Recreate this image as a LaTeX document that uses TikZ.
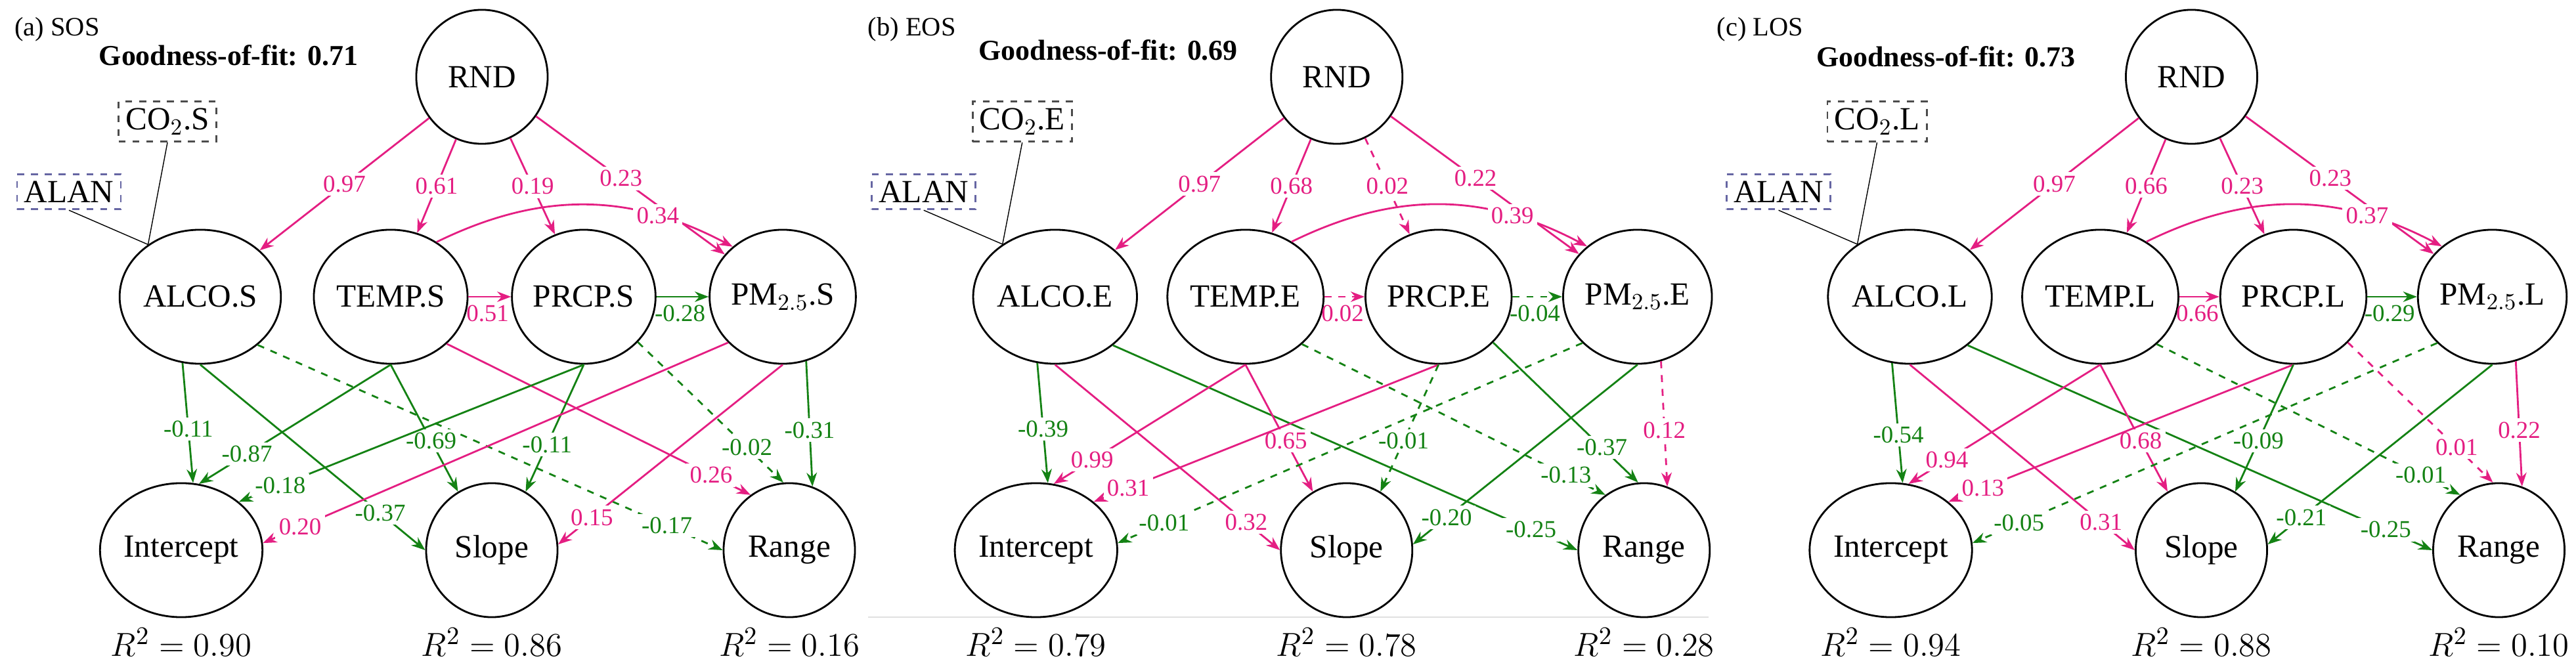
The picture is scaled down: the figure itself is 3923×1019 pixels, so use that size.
\documentclass[tikz,border=0pt]{standalone}
\usepackage{fontspec}
\setmainfont{Liberation Serif}
\usepackage{tikz}
\usetikzlibrary{shapes.geometric}
\usetikzlibrary{arrows.meta}
\definecolor{pk}{RGB}{228,30,130}
\definecolor{gn}{RGB}{20,130,20}
\newcommand\pth[5]{\draw[#1] (#2) -- node[lbl,pos=#4]{#5} (#3);}
\newcommand\vars[1]{
    \node[var] (RND) at (734,117) {RND};
    \node[var] (ALCO) at (305,452) {ALCO.#1};
    \node[var] (TEMP) at (595,452) {TEMP.#1};
    \node[var] (PRCP) at (889,452) {PRCP.#1};
    \node[var] (PM) at (1192,452) {PM$_{2.5}$.#1};
    \node[var] (INT) at (276,838) {Intercept};
    \node[var] (SLP) at (749,838) {Slope};
    \node[var] (RNG) at (1202,838) {Range};
    \node[box,draw=black!70] (CO) at (255,185) {CO$_2$.#1};
    \node[box,draw=blue!40!black!60] (ALAN) at (105,292) {ALAN};
    \draw (CO.south) -- (ALCO.135);
    \draw (ALAN.south) -- (ALCO.135);
}
\begin{document}
\begin{tikzpicture}[x=0.01cm,y=-0.01cm,
    var/.style={ellipse, draw, thick, minimum width=2cm, minimum height=2.04cm, inner sep=0pt, font=\fontsize{14}{16}\selectfont},
    box/.style={rectangle, dashed, thick, inner sep=3pt, font=\fontsize{14}{16}\selectfont},
    lbl/.style={fill=white, inner sep=1.5pt, font=\fontsize{10.5}{12}\selectfont},
    pe/.style={color=pk, thick, -{Stealth[length=6pt]}},
    ne/.style={color=gn, thick, -{Stealth[length=6pt]}},
    ns/.style={dashed},
    gof/.style={font=\bfseries\fontsize{12.5}{14}\selectfont},
    ttl/.style={font=\fontsize{11.5}{13}\selectfont},
    rsq/.style={font=\fontsize{15}{17}\selectfont}]
\useasboundingbox (0,0) rectangle (3923,1019);

% (a) SOS
\begin{scope}[name prefix=a-]
    \node[ttl] (title) at (87,45) {(a) SOS};
    \node[gof] (gof) at (348,84) {Goodness-of-fit: 0.71};
    \vars{S}
    \pth{pe}{RND}{ALCO}{0.5}{0.97}
    \pth{pe}{RND}{TEMP}{0.5}{0.61}
    \pth{pe}{RND}{PRCP}{0.5}{0.19}
    \pth{pe}{RND}{PM}{0.45}{0.23}
    \draw[pe] (TEMP.50) to[bend left=27] node[lbl,pos=0.75]{0.34} (PM.135);
    \draw[pe] (TEMP) -- node[below,pos=0.45,font=\fontsize{10.5}{12}\selectfont]{0.51} (PRCP);
    \draw[ne] (PRCP) -- node[below,pos=0.45,font=\fontsize{10.5}{12}\selectfont]{-0.28} (PM);
    \pth{ne}{ALCO.-105}{INT.80}{0.55}{-0.11}
    \pth{ne}{ALCO.-90}{SLP.180}{0.8}{-0.37}
    \pth{ne,ns}{ALCO.-40}{RNG.180}{0.88}{-0.17}
    \pth{ne}{TEMP.-90}{INT.75}{0.75}{-0.87}
    \pth{ne}{TEMP.-90}{SLP.120}{0.6}{-0.69}
    \pth{pe}{TEMP.-40}{RNG.125}{0.87}{0.26}
    \pth{ne}{PRCP.-90}{INT.40}{0.88}{-0.18}
    \pth{ne}{PRCP.-90}{SLP.60}{0.63}{-0.11}
    \pth{ne,ns}{PRCP.-40}{RNG.95}{0.75}{-0.02}
    \pth{pe}{PM.-140}{INT.5}{0.92}{0.20}
    \pth{pe}{PM.-90}{SLP.5}{0.85}{0.15}
    \pth{ne}{PM.-70}{RNG.70}{0.55}{-0.31}
    \node[rsq] (r1) at (276,978) {$R^2 = 0.90$};
    \node[rsq] (r2) at (749,978) {$R^2 = 0.86$};
    \node[rsq] (r3) at (1202,978) {$R^2 = 0.16$};
\end{scope}

% (b) EOS
\begin{scope}[xshift=13.01cm, name prefix=b-]
    \draw[black!12] (20,940) -- (1300,940);
    \node[ttl] (title) at (87,45) {(b) EOS};
    \node[gof] (gof) at (386,76) {Goodness-of-fit: 0.69};
    \vars{E}
    \pth{pe}{RND}{ALCO}{0.5}{0.97}
    \pth{pe}{RND}{TEMP}{0.5}{0.68}
    \pth{pe,ns}{RND}{PRCP}{0.5}{0.02}
    \pth{pe}{RND}{PM}{0.45}{0.22}
    \draw[pe] (TEMP.50) to[bend left=27] node[lbl,pos=0.75]{0.39} (PM.135);
    \draw[pe,ns] (TEMP) -- node[below,pos=0.45,font=\fontsize{10.5}{12}\selectfont]{0.02} (PRCP);
    \draw[ne,ns] (PRCP) -- node[below,pos=0.45,font=\fontsize{10.5}{12}\selectfont]{-0.04} (PM);
    \pth{ne}{ALCO.-105}{INT.80}{0.55}{-0.39}
    \pth{pe}{ALCO.-90}{SLP.180}{0.85}{0.32}
    \pth{ne}{ALCO.-40}{RNG.180}{0.9}{-0.25}
    \pth{pe}{TEMP.-90}{INT.75}{0.8}{0.99}
    \pth{pe}{TEMP.-90}{SLP.120}{0.6}{0.65}
    \pth{ne,ns}{TEMP.-40}{RNG.125}{0.87}{-0.13}
    \pth{pe}{PRCP.-90}{INT.40}{0.9}{0.31}
    \pth{ne,ns}{PRCP.-90}{SLP.60}{0.6}{-0.01}
    \pth{ne}{PRCP.-40}{RNG.95}{0.75}{-0.37}
    \pth{ne,ns}{PM.-140}{INT.5}{0.9}{-0.01}
    \pth{ne}{PM.-90}{SLP.5}{0.85}{-0.20}
    \pth{pe,ns}{PM.-70}{RNG.70}{0.55}{0.12}
    \node[rsq] (r1) at (276,978) {$R^2 = 0.79$};
    \node[rsq] (r2) at (749,978) {$R^2 = 0.78$};
    \node[rsq] (r3) at (1202,978) {$R^2 = 0.28$};
\end{scope}

% (c) LOS
\begin{scope}[xshift=26.02cm, name prefix=c-]
    \node[ttl] (title) at (77,45) {(c) LOS};
    \node[gof] (gof) at (360,86) {Goodness-of-fit: 0.73};
    \vars{L}
    \pth{pe}{RND}{ALCO}{0.5}{0.97}
    \pth{pe}{RND}{TEMP}{0.5}{0.66}
    \pth{pe}{RND}{PRCP}{0.5}{0.23}
    \pth{pe}{RND}{PM}{0.45}{0.23}
    \draw[pe] (TEMP.50) to[bend left=27] node[lbl,pos=0.75]{0.37} (PM.135);
    \draw[pe] (TEMP) -- node[below,pos=0.45,font=\fontsize{10.5}{12}\selectfont]{0.66} (PRCP);
    \draw[ne] (PRCP) -- node[below,pos=0.45,font=\fontsize{10.5}{12}\selectfont]{-0.29} (PM);
    \pth{ne}{ALCO.-105}{INT.80}{0.6}{-0.54}
    \pth{pe}{ALCO.-90}{SLP.180}{0.85}{0.31}
    \pth{ne}{ALCO.-40}{RNG.180}{0.9}{-0.25}
    \pth{pe}{TEMP.-90}{INT.75}{0.8}{0.94}
    \pth{pe}{TEMP.-90}{SLP.120}{0.6}{0.68}
    \pth{ne,ns}{TEMP.-40}{RNG.125}{0.87}{-0.01}
    \pth{pe}{PRCP.-90}{INT.40}{0.9}{0.13}
    \pth{ne}{PRCP.-90}{SLP.60}{0.6}{-0.09}
    \pth{pe,ns}{PRCP.-40}{RNG.95}{0.75}{0.01}
    \pth{ne,ns}{PM.-140}{INT.5}{0.9}{-0.05}
    \pth{ne}{PM.-90}{SLP.5}{0.85}{-0.21}
    \pth{pe}{PM.-70}{RNG.70}{0.55}{0.22}
    \node[rsq] (r1) at (276,978) {$R^2 = 0.94$};
    \node[rsq] (r2) at (749,978) {$R^2 = 0.88$};
    \node[rsq] (r3) at (1202,978) {$R^2 = 0.10$};
\end{scope}
\end{tikzpicture}
\end{document}
